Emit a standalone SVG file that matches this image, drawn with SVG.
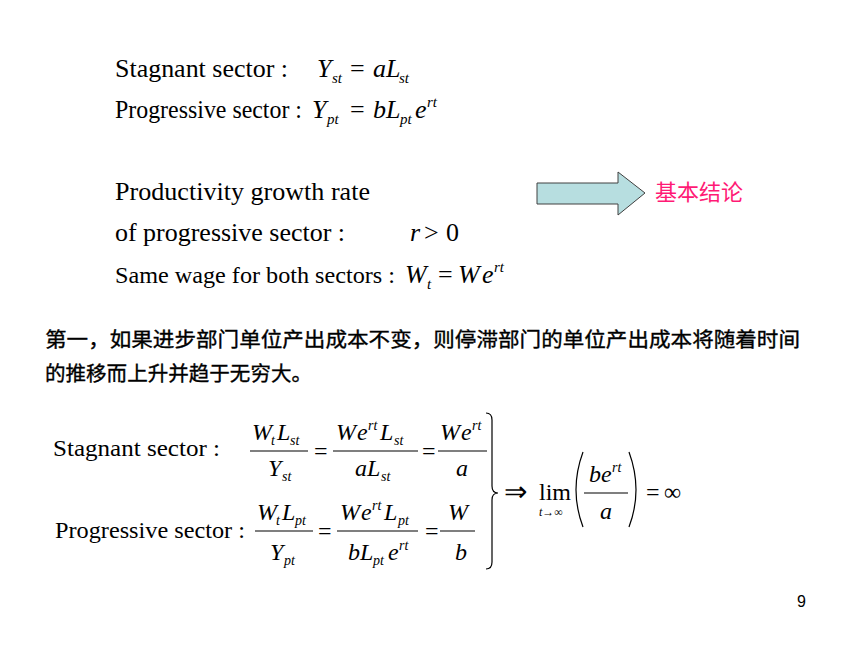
<svg xmlns="http://www.w3.org/2000/svg" width="860" height="645" viewBox="0 0 860 645">
<style>
.t{font-size:26px;fill:#000}
.m{font-size:26px;font-style:italic;fill:#000}
.u{font-size:26px;fill:#000}
.s{font-size:15px;font-style:italic;fill:#000}
.t2{font-size:24px;fill:#000}
.m2{font-size:24px;font-style:italic;fill:#000}
.s2{font-size:14px;font-style:italic;fill:#000}
.cn{font-size:20.4px;font-weight:normal;fill:#000;stroke:#000;stroke-width:0.35}
.bar{stroke:#000;stroke-width:1.2;fill:none}
.arrow{fill:#B7DEE0;stroke:#404040;stroke-width:1}
</style>
<rect width="860" height="645" fill="#fff"/>

<g id="defs-top" font-family="Liberation Serif, Times New Roman, serif">
  <text class="t" x="115" y="77" textLength="173" lengthAdjust="spacingAndGlyphs">Stagnant sector :</text>
  <text class="m" x="317" y="77">Y</text><text class="s" x="332" y="83">st</text>
  <text class="u" x="350" y="77">=</text>
  <text class="m" x="373" y="77">a</text><text class="m" x="386" y="77">L</text><text class="s" x="399" y="83">st</text>

  <text class="t" x="115" y="118" font-size="24.5" style="font-size:24.5px" textLength="187" lengthAdjust="spacingAndGlyphs">Progressive sector :</text>
  <text class="m" x="312" y="118">Y</text><text class="s" x="327" y="124">pt</text>
  <text class="u" x="350" y="118">=</text>
  <text class="m" x="373" y="118">b</text><text class="m" x="386" y="118">L</text><text class="s" x="400" y="124">pt</text>
  <text class="m" x="415" y="118">e</text><text class="s" x="427" y="107">rt</text>

  <text class="t" x="115" y="200" textLength="255" lengthAdjust="spacingAndGlyphs">Productivity growth rate</text>
  <text class="t" x="115" y="241" textLength="230" lengthAdjust="spacingAndGlyphs">of progressive sector :</text>
  <text class="m" x="410" y="241">r</text><text class="u" x="424" y="241">&gt;</text><text class="u" x="446" y="241">0</text>

  <text class="t" x="115" y="283" style="font-size:24px" textLength="280" lengthAdjust="spacingAndGlyphs">Same wage for both sectors :</text>
  <text class="m" x="405" y="283">W</text><text class="s" x="427" y="289">t</text>
  <text class="u" x="438" y="283">=</text>
  <text class="m" x="458" y="283">W</text><text class="m" x="482" y="283">e</text><text class="s" x="494" y="272">rt</text>
</g>

<g id="arrow-node">
  <polygon class="arrow" points="537,183 618,183 618,172 645,193 618,215 618,204 537,204"/>
  <text x="655" y="200" font-family="Noto Sans CJK SC, sans-serif" font-size="22" fill="#FF1A75">基本结论</text>
</g>

<g id="paragraph" font-family="Noto Sans CJK SC, sans-serif">
  <text class="cn" x="45" y="347" textLength="755" lengthAdjust="spacingAndGlyphs">第一，如果进步部门单位产出成本不变，则停滞部门的单位产出成本将随着时间</text>
  <text class="cn" x="45" y="381" textLength="267" lengthAdjust="spacingAndGlyphs">的推移而上升并趋于无穷大。</text>
</g>

<g id="stagnant-eq" font-family="Liberation Serif, Times New Roman, serif">
  <text class="t2" x="53" y="456" textLength="167" lengthAdjust="spacingAndGlyphs">Stagnant sector :</text>
  <text class="m2" x="252" y="440">W</text><text class="s2" x="271" y="445">t</text><text class="m2" x="277" y="440">L</text><text class="s2" x="290" y="445">st</text>
  <line class="bar" x1="250" y1="451" x2="308" y2="451"/>
  <text class="m2" x="268" y="476">Y</text><text class="s2" x="282" y="481">st</text>
  <text class="t2" x="314" y="459">=</text>
  <text class="m2" x="336" y="440">W</text><text class="m2" x="357" y="440">e</text><text class="s2" x="368" y="430">rt</text><text class="m2" x="380" y="440">L</text><text class="s2" x="394" y="445">st</text>
  <line class="bar" x1="333" y1="451" x2="418" y2="451"/>
  <text class="m2" x="355" y="476">a</text><text class="m2" x="367" y="476">L</text><text class="s2" x="381" y="481">st</text>
  <text class="t2" x="422" y="459">=</text>
  <text class="m2" x="440" y="440">W</text><text class="m2" x="461" y="440">e</text><text class="s2" x="472" y="430">rt</text>
  <line class="bar" x1="438" y1="451" x2="487" y2="451"/>
  <text class="m2" x="456" y="476">a</text>
</g>

<g id="progressive-eq" font-family="Liberation Serif, Times New Roman, serif">
  <text class="t2" x="55" y="538" textLength="190" lengthAdjust="spacingAndGlyphs">Progressive sector :</text>
  <text class="m2" x="257" y="520">W</text><text class="s2" x="276" y="525">t</text><text class="m2" x="282" y="520">L</text><text class="s2" x="295" y="525">pt</text>
  <line class="bar" x1="255" y1="531" x2="313" y2="531"/>
  <text class="m2" x="270" y="560">Y</text><text class="s2" x="284" y="565">pt</text>
  <text class="t2" x="318" y="539">=</text>
  <text class="m2" x="340" y="520">W</text><text class="m2" x="361" y="520">e</text><text class="s2" x="372" y="510">rt</text><text class="m2" x="384" y="520">L</text><text class="s2" x="398" y="525">pt</text>
  <line class="bar" x1="337" y1="531" x2="418" y2="531"/>
  <text class="m2" x="348" y="560">b</text><text class="m2" x="360" y="560">L</text><text class="s2" x="373" y="565">pt</text><text class="m2" x="388" y="560">e</text><text class="s2" x="399" y="550">rt</text>
  <text class="t2" x="425" y="539">=</text>
  <text class="m2" x="448" y="520">W</text>
  <line class="bar" x1="440" y1="531" x2="475" y2="531"/>
  <text class="m2" x="455" y="560">b</text>
</g>

<g id="conclusion" font-family="Liberation Serif, Times New Roman, serif">
  <path class="bar" d="M486,413 Q492,413 492,420 L492,486 Q492,493 498,493 Q492,493 492,500 L492,562 Q492,569 486,569"/>
  <text x="504" y="501" font-size="28" font-weight="200" font-family="DejaVu Sans, sans-serif">⇒</text>
  <text class="t2" x="539" y="500">lim</text>
  <text x="539" y="516" font-size="12"><tspan font-style="italic">t</tspan>→∞</text>
  <path class="bar" d="M583,452 Q569,490 583,527"/>
  <text class="m2" x="589" y="482">b</text><text class="m2" x="601" y="482">e</text><text class="s2" x="612" y="472">rt</text>
  <line class="bar" x1="584" y1="493" x2="628" y2="493"/>
  <text class="m2" x="600" y="519">a</text>
  <path class="bar" d="M629,452 Q643,490 629,527"/>
  <text class="t2" x="646" y="500">=</text>
  <text class="t2" x="664" y="500">∞</text>
</g>

<text x="797" y="607" font-family="Liberation Sans, Arial, sans-serif" font-size="16">9</text>
</svg>
